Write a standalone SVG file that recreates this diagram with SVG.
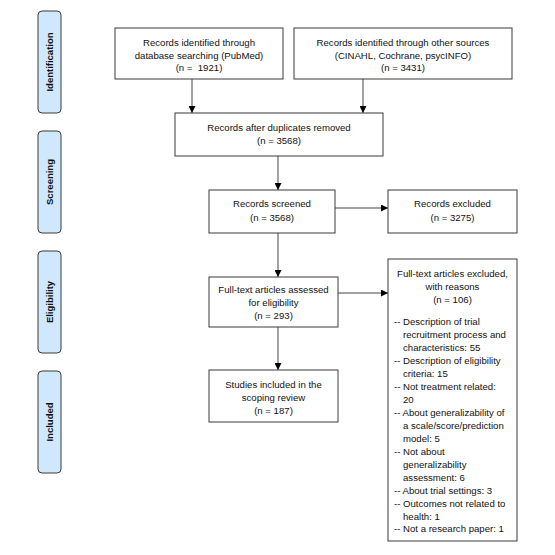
<svg xmlns="http://www.w3.org/2000/svg" width="555" height="555" viewBox="0 0 555 555">
<defs>
<style>
.side{fill:#cfe8fb;stroke:#3a3a3a;stroke-width:1}
.box{fill:#ffffff;stroke:#3a3a3a;stroke-width:1}
.t{font-family:"Liberation Sans",Arial,sans-serif;font-size:9.6px;fill:#111;text-anchor:middle}
.l{font-family:"Liberation Sans",Arial,sans-serif;font-size:9.6px;fill:#111}
.st{font-family:"Liberation Sans",Arial,sans-serif;font-size:9.5px;font-weight:bold;fill:#111;text-anchor:middle}
.c{stroke:#444;stroke-width:1;fill:none;marker-end:url(#ah)}
</style>
<marker id="ah" viewBox="0 0 10 10" refX="10" refY="5" markerWidth="7" markerHeight="7" markerUnits="userSpaceOnUse" orient="auto">
<path d="M0,0 L10,5 L0,10 z" fill="#000"/>
</marker>
</defs>
<rect width="555" height="555" fill="#ffffff"/>
<g id="stage-identification">
<rect class="side" x="38" y="11" width="23" height="102" rx="4"/>
<text class="st" transform="translate(53,62) rotate(-90)">Identification</text>
</g>
<g id="stage-screening">
<rect class="side" x="38" y="131" width="23" height="102" rx="4"/>
<text class="st" transform="translate(53,182) rotate(-90)">Screening</text>
</g>
<g id="stage-eligibility">
<rect class="side" x="38" y="251" width="23" height="102" rx="4"/>
<text class="st" transform="translate(53,302) rotate(-90)">Eligibility</text>
</g>
<g id="stage-included">
<rect class="side" x="38" y="371" width="23" height="102" rx="4"/>
<text class="st" transform="translate(53,422) rotate(-90)">Included</text>
</g>
<g id="connectors">
<line class="c" x1="192" y1="79" x2="192" y2="113"/>
<line class="c" x1="363" y1="79" x2="363" y2="113"/>
<line class="c" x1="278" y1="156" x2="278" y2="190"/>
<line class="c" x1="335" y1="208" x2="388" y2="208"/>
<line class="c" x1="278" y1="233" x2="278" y2="277"/>
<line class="c" x1="338" y1="293" x2="388" y2="293"/>
<line class="c" x1="278" y1="327" x2="278" y2="370"/>
</g>
<g id="db-search">
<rect class="box" x="115" y="28" width="168" height="51"/>
<text class="t" x="199" y="46">Records identified through</text>
<text class="t" x="199" y="58.5">database searching (PubMed)</text>
<text class="t" x="199" y="71" xml:space="preserve">(n =  1921)</text>
</g>
<g id="other-sources">
<rect class="box" x="294" y="28" width="218" height="51"/>
<text class="t" x="403" y="46">Records identified through other sources</text>
<text class="t" x="403" y="58.5">(CINAHL, Cochrane, psycINFO)</text>
<text class="t" x="403" y="71">(n = 3431)</text>
</g>
<g id="duplicates-removed">
<rect class="box" x="175" y="113" width="208" height="43"/>
<text class="t" x="279" y="131">Records after duplicates removed</text>
<text class="t" x="279" y="144">(n = 3568)</text>
</g>
<g id="screened">
<rect class="box" x="209" y="190" width="126" height="43"/>
<text class="t" x="272" y="207">Records screened</text>
<text class="t" x="272" y="221">(n = 3568)</text>
</g>
<g id="excluded">
<rect class="box" x="388" y="190" width="129" height="43"/>
<text class="t" x="452.5" y="207">Records excluded</text>
<text class="t" x="452.5" y="221">(n = 3275)</text>
</g>
<g id="full-text">
<rect class="box" x="209" y="277" width="129" height="50"/>
<text class="t" x="273.5" y="293">Full-text articles assessed</text>
<text class="t" x="273.5" y="306">for eligibility</text>
<text class="t" x="273.5" y="319">(n = 293)</text>
</g>
<g id="full-text-excluded">
<rect class="box" x="388" y="259" width="129" height="282"/>
<text class="t" x="452.5" y="277">Full-text articles excluded,</text>
<text class="t" x="452.5" y="290">with reasons</text>
<text class="t" x="452.5" y="303">(n = 106)</text>
<text class="l" x="394" y="325">-- Description of trial</text>
<text class="l" x="403" y="338">recruitment process and</text>
<text class="l" x="403" y="351">characteristics: 55</text>
<text class="l" x="394" y="364">-- Description of eligibility</text>
<text class="l" x="403" y="377">criteria: 15</text>
<text class="l" x="394" y="390">-- Not treatment related:</text>
<text class="l" x="403" y="403">20</text>
<text class="l" x="394" y="415.5">-- About generalizability of</text>
<text class="l" x="403" y="428.5">a scale/score/prediction</text>
<text class="l" x="403" y="441.5">model: 5</text>
<text class="l" x="394" y="454.5">-- Not about</text>
<text class="l" x="403" y="467.5">generalizability</text>
<text class="l" x="403" y="480.5">assessment: 6</text>
<text class="l" x="394" y="493.5">-- About trial settings: 3</text>
<text class="l" x="394" y="506.5">-- Outcomes not related to</text>
<text class="l" x="403" y="519.5">health: 1</text>
<text class="l" x="394" y="532">-- Not a research paper: 1</text>
</g>
<g id="included">
<rect class="box" x="209" y="370" width="129" height="52"/>
<text class="t" x="273.5" y="388">Studies included in the</text>
<text class="t" x="273.5" y="401">scoping review</text>
<text class="t" x="273.5" y="414">(n = 187)</text>
</g>
</svg>
